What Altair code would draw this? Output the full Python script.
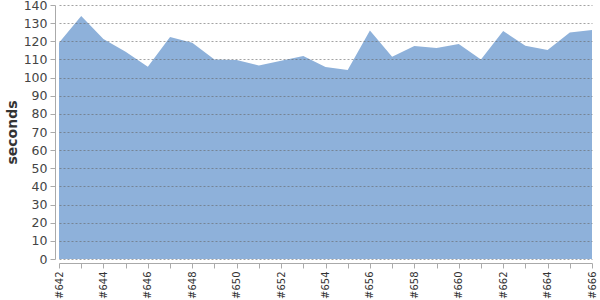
import altair as alt
import pandas as pd

builds = ["#642", "#643", "#644", "#645", "#646", "#647", "#648", "#649", "#650",
          "#651", "#652", "#653", "#654", "#655", "#656", "#657", "#658", "#659",
          "#660", "#661", "#662", "#663", "#664", "#665", "#666"]
seconds = [119.2, 134.0, 121.3, 114.3, 106.0, 122.4, 119.2, 110.0, 109.7,
           106.6, 109.3, 111.9, 105.8, 104.2, 125.9, 111.5, 117.4, 116.3,
           118.5, 110.0, 125.7, 117.6, 115.2, 124.8, 126.2]
y_ticks = list(range(0, 141, 10))

df = pd.DataFrame({"build": builds, "seconds": seconds})

chart = alt.Chart(df).mark_area(color="#8EB1DA", opacity=1).encode(
    x=alt.X("build:O", sort=builds,
            scale=alt.Scale(type="point", padding=0),
            axis=alt.Axis(title=None, labelAngle=-90, offset=4,
                          labelExpr="toNumber(substring(datum.value,1)) % 2 == 0 ? datum.label : ''",
                          labelFont="DejaVu Sans", labelFontSize=10, labelColor="#333",
                          labelAlign="right", labelBaseline="middle", labelPadding=3,
                          domainColor="#aaa", tickColor="#aaa", tickSize=5, grid=False)),
    y=alt.Y("seconds:Q", scale=alt.Scale(domain=[0, 140], nice=False),
            axis=alt.Axis(title="seconds", values=y_ticks, offset=4,
                          labelFont="DejaVu Sans", labelFontSize=12.5, labelColor="#444",
                          labelPadding=3,
                          titleFont="DejaVu Sans", titleFontSize=14, titleFontWeight="bold",
                          titleColor="#333", titlePadding=4,
                          domainColor="#aaa", tickColor="#aaa", tickSize=5,
                          grid=True, gridColor="#666", gridOpacity=0.6, gridDash=[2, 2],
                          zindex=1)),
).properties(
    width=533, height=254,
    autosize=alt.AutoSizeParams(type="none"),
    padding={"left": 59, "top": 5, "right": 8, "bottom": 41},
).configure_view(stroke=None)

chart.save("out.html", embed_options={"renderer": "svg", "actions": False})
